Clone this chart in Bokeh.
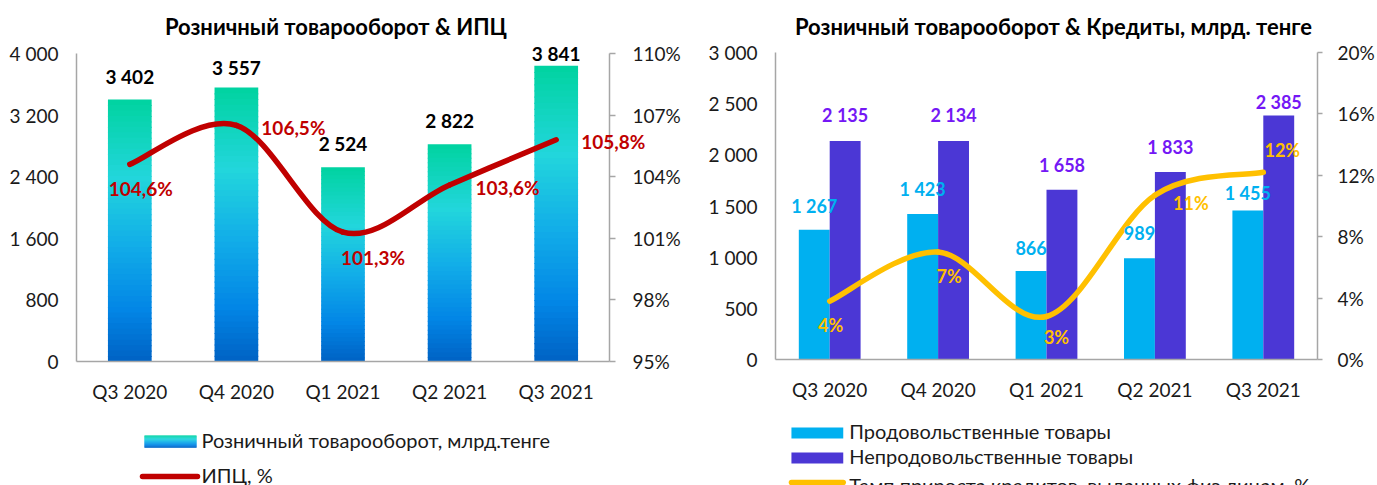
import numpy as np
from bokeh.plotting import figure
from bokeh.models import Range1d, LinearAxis, FixedTicker, ColumnDataSource
from bokeh.layouts import row, column
from bokeh.embed import file_html
from bokeh.resources import INLINE
from bokeh.core.properties import value

FONT = "Lato"

# ---------------- data ----------------
quarters = ["Q3 2020", "Q4 2020", "Q1 2021", "Q2 2021", "Q3 2021"]
retail = [3402, 3557, 2524, 2822, 3841]
retail_labels = ["3 402", "3 557", "2 524", "2 822", "3 841"]
cpi = [104.6, 106.5, 101.3, 103.6, 105.8]
cpi_labels = ["104,6%", "106,5%", "101,3%", "103,6%", "105,8%"]

food = [1267, 1423, 866, 989, 1455]
food_labels = ["1 267", "1 423", "866", "989", "1 455"]
nonfood = [2135, 2134, 1658, 1833, 2385]
nonfood_labels = ["2 135", "2 134", "1 658", "1 833", "2 385"]
credit = [3.8, 7.0, 2.8, 10.7, 12.2]
credit_labels = ["4%", "7%", "3%", "11%", "12%"]

retail_ticks = [0, 800, 1600, 2400, 3200, 4000]
cpi_ticks = [95, 98, 101, 104, 107, 110]
sales_ticks = [0, 500, 1000, 1500, 2000, 2500, 3000]
credit_ticks = [0, 4, 8, 12, 16, 20]

title_left = "Розничный товарооборот & ИПЦ"
title_right = "Розничный товарооборот & Кредиты, млрд. тенге"
legend_left = ["Розничный товарооборот, млрд.тенге", "ИПЦ, %"]
legend_right = ["Продовольственные товары", "Непродовольственные товары",
                "Темп прироста кредитов, выданных физ.лицам, %"]

# ---------------- styles ----------------
AXIS_COL = "#A6A6A6"
TXT = "#1a1a1a"
RED = "#C00000"
FOOD_COL = "#00B0F0"
NONFOOD_COL = "#4B37D5"
NONFOOD_TXT = "#7418F5"
YEL = "#FFC000"
GRAD = [(0.0, "#00D3A0"), (0.3, "#22D6DC"), (0.55, "#12AEE8"), (0.8, "#0286E6"), (1.0, "#0062C4")]


def grad_color(f):
    for (a, ca), (b, cb) in zip(GRAD[:-1], GRAD[1:]):
        if a <= f <= b:
            t = (f - a) / (b - a)
            c1 = np.array([int(ca[i:i + 2], 16) for i in (1, 3, 5)])
            c2 = np.array([int(cb[i:i + 2], 16) for i in (1, 3, 5)])
            c = (c1 + (c2 - c1) * t).round().astype(int)
            return "#%02x%02x%02x" % tuple(c)
    return GRAD[-1][1]


def fmt_num(t):
    return f"{t:,}".replace(",", " ")


def smooth_segments(xs, ys, k=1 / 6):
    n = len(xs)
    d = dict(x0=[], y0=[], x1=[], y1=[], cx0=[], cy0=[], cx1=[], cy1=[])
    for i in range(n - 1):
        a = max(i - 1, 0)
        b = min(i + 2, n - 1)
        d["x0"].append(xs[i]); d["y0"].append(ys[i])
        d["x1"].append(xs[i + 1]); d["y1"].append(ys[i + 1])
        d["cx0"].append(xs[i] + (xs[i + 1] - xs[a]) * k)
        d["cy0"].append(ys[i] + (ys[i + 1] - ys[a]) * k)
        d["cx1"].append(xs[i + 1] - (xs[b] - xs[i]) * k)
        d["cy1"].append(ys[i + 1] - (ys[b] - ys[i]) * k)
    return d


def style_axis(ax, tick_out=0, standoff=18):
    ax.axis_line_color = AXIS_COL
    ax.axis_line_width = 1.5
    ax.major_tick_line_color = AXIS_COL
    ax.major_tick_line_width = 1.5
    ax.major_tick_out = tick_out
    ax.major_tick_in = 0
    ax.minor_tick_line_color = None
    ax.major_label_text_font = FONT
    ax.major_label_text_font_size = "19px"
    ax.major_label_text_color = TXT
    ax.major_label_standoff = standoff


def base_fig(w, h, ymax, bl, br, bt, bb, ticks):
    p = figure(width=w, height=h, x_range=Range1d(0, len(quarters)), y_range=Range1d(0, ymax),
               output_backend="svg", toolbar_location=None,
               min_border_left=bl, min_border_right=br, min_border_top=bt, min_border_bottom=bb)
    p.outline_line_color = None
    p.grid.visible = False
    p.background_fill_color = "white"
    p.border_fill_color = "white"
    xs = [i + 0.5 for i in range(len(quarters))]
    p.xaxis.ticker = FixedTicker(ticks=xs)
    p.xaxis.major_label_overrides = {x: q for x, q in zip(xs, quarters)}
    p.yaxis.ticker = FixedTicker(ticks=ticks)
    p.yaxis.major_label_overrides = {t: fmt_num(t) for t in ticks}
    style_axis(p.xaxis[0], 0, 18)
    style_axis(p.yaxis[0], 0, 18)
    return p, xs


def labels(p, xs, ys, texts, dx, dy, color, size="18px", y_range_name="default"):
    src = ColumnDataSource(dict(x=xs, y=ys, t=texts, dx=dx, dy=[-d for d in dy]))
    p.text(x="x", y="y", text="t", x_offset="dx", y_offset="dy", source=src,
           text_align="center", text_baseline="middle", text_font=value(FONT),
           text_font_size=size, text_font_style="bold", text_color=color,
           y_range_name=y_range_name, level="overlay")


def chart_title(p, text, ymax, dx, dy):
    p.text(x=[len(quarters) / 2], y=[ymax], text=[text], x_offset=dx, y_offset=-dy,
           text_align="center", text_baseline="middle", text_font=value(FONT),
           text_font_size="22px", text_font_style="bold", text_color="black", level="overlay")


def legend_fig(w, h, x0, x1):
    f = figure(width=w, height=h, x_range=Range1d(x0, x1), y_range=Range1d(h, 0),
               output_backend="svg", toolbar_location=None, min_border=0,
               x_axis_location=None, y_axis_location=None)
    f.grid.visible = False
    f.outline_line_color = None
    f.background_fill_color = "white"
    f.border_fill_color = "white"
    return f


# ================= LEFT CHART =================
p1, xs = base_fig(688, 408, 4000, 76, 79, 53, 47, retail_ticks)
p1.extra_y_ranges = {"cpi": Range1d(95, 110)}
ax_r = LinearAxis(y_range_name="cpi", ticker=FixedTicker(ticks=cpi_ticks),
                  major_label_overrides={t: f"{t}%" for t in cpi_ticks})
style_axis(ax_r, 6, 17)
p1.add_layout(ax_r, "right")

N = 48
gx, gb, gt, gc = [], [], [], []
for x, v in zip(xs, retail):
    for j in range(N):
        ftop = 1 - j / N
        fbot = 1 - (j + 1) / N
        gx.append(x)
        gt.append(v * ftop)
        gb.append(max(v * fbot - v * 0.004, 0))
        gc.append(grad_color((j + 0.5) / N))
p1.vbar(x=gx, bottom=gb, top=gt, width=0.41, fill_color=gc, line_color=None)

seg = smooth_segments(xs, cpi)
p1.bezier(source=ColumnDataSource(seg), x0="x0", y0="y0", x1="x1", y1="y1",
          cx0="cx0", cy0="cy0", cx1="cx1", cy1="cy1",
          line_color=RED, line_width=5.5, line_cap="round", y_range_name="cpi")

labels(p1, xs, retail, retail_labels, [0] * 5, [23, 20, 24, 24, 12], "black", "19px")
labels(p1, xs, cpi, cpi_labels, [11, 57, 30, 58, 57], [-24, -2, -25, -3, -2], RED, "19px", "cpi")
chart_title(p1, title_left, 4000, -7, 27)

# legend (frame aligned with the plot frame above: x in page pixels 76..609)
l1 = legend_fig(688, 77, 76, 609)
for j in range(N):
    y0 = 27 + 12 * j / N
    l1.quad(left=144, right=196, top=y0, bottom=y0 + 12 / N + 0.3, fill_color=grad_color((j + 0.5) / N),
            line_color=None)
l1.line(x=[142, 197], y=[68, 68], line_color=RED, line_width=5.5, line_cap="round")
l1.text(x=[201, 201], y=[31, 66], text=legend_left, text_font=value(FONT), text_font_size="20px",
        text_color=TXT, text_baseline="middle", text_align="left", level="overlay")

# ================= RIGHT CHART =================
p2, xs2 = base_fig(689, 408, 3000, 87, 58, 52, 49, sales_ticks)
p2.extra_y_ranges = {"cr": Range1d(0, 20)}
ax_r2 = LinearAxis(y_range_name="cr", ticker=FixedTicker(ticks=credit_ticks),
                   major_label_overrides={t: f"{t}%" for t in credit_ticks})
style_axis(ax_r2, 5, 15)
p2.add_layout(ax_r2, "right")

bw = 0.285
p2.vbar(x=[x - bw / 2 for x in xs2], top=food, width=bw, fill_color=FOOD_COL, line_color=None)
p2.vbar(x=[x + bw / 2 for x in xs2], top=nonfood, width=bw, fill_color=NONFOOD_COL, line_color=None)

seg2 = smooth_segments(xs2, credit)
p2.bezier(source=ColumnDataSource(seg2), x0="x0", y0="y0", x1="x1", y1="y1",
          cx0="cx0", cy0="cy0", cx1="cx1", cy1="cy1",
          line_color=YEL, line_width=5.5, line_cap="round", y_range_name="cr")

labels(p2, [x - bw / 2 for x in xs2], food, food_labels, [0] * 5, [24, 25, 23, 25, 18], FOOD_COL)
labels(p2, [x + bw / 2 for x in xs2], nonfood, nonfood_labels, [0] * 5, [26, 26, 25, 25, 13], NONFOOD_TXT)
labels(p2, xs2, credit, credit_labels, [1, 11, 10, 36, 19], [-24, -24, -20, -8, 22], YEL, "18px", "cr")
chart_title(p2, title_right, 3000, 7, 26)

# legend (frame aligned with plot frame: local x 87..631)
l2 = legend_fig(689, 77, 87, 631)
l2.quad(left=103, right=155, top=19, bottom=30, fill_color=FOOD_COL, line_color=None)
l2.quad(left=103, right=155, top=44, bottom=55, fill_color=NONFOOD_COL, line_color=None)
l2.line(x=[103, 155], y=[74, 74], line_color=YEL, line_width=5.5, line_cap="round")
l2.text(x=[161, 161, 161], y=[22, 47, 76], text=legend_right, text_font=value(FONT),
        text_font_size="20px", text_color=TXT, text_baseline="middle", text_align="left",
        level="overlay")

layout = row(column(p1, l1), column(p2, l2))
open("out.html", "w").write(file_html(layout, INLINE))
